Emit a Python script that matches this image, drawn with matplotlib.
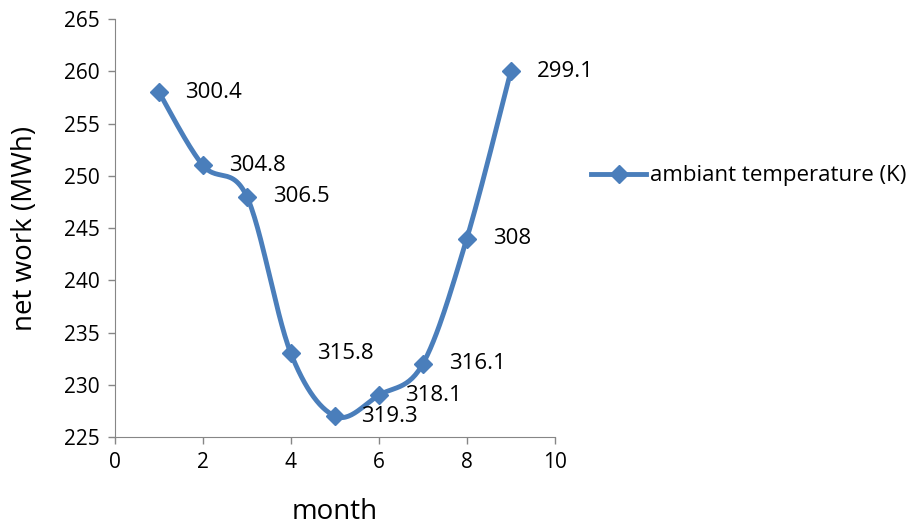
import numpy as np
import matplotlib.pyplot as plt

plt.rcParams['font.family'] = ['Open Sans', 'DejaVu Sans']

month = [1, 2, 3, 4, 5, 6, 7, 8, 9]
net_work = [258, 251, 248, 233, 227, 229, 232, 244, 260]
temperature = ['300.4', '304.8', '306.5', '315.8', '319.3', '318.1', '316.1', '308', '299.1']

blue = '#4a7ebb'
grey = '#868686'


def smooth(x, y, n=30):
    # Catmull-Rom style curve through the points (like a spreadsheet "smoothed line")
    x = np.asarray(x, float)
    y = np.asarray(y, float)
    px = np.concatenate([[x[0]], x, [x[-1]]])
    py = np.concatenate([[y[0]], y, [y[-1]]])
    xs, ys = [], []
    t = np.linspace(0, 1, n)
    for i in range(1, len(px) - 2):
        p0, p1, p2, p3 = (np.array([px[j], py[j]]) for j in range(i - 1, i + 3))
        c1 = p1 + (p2 - p0) / 6
        c2 = p2 - (p3 - p1) / 6
        b = (np.outer((1 - t) ** 3, p1) + np.outer(3 * (1 - t) ** 2 * t, c1)
             + np.outer(3 * (1 - t) * t ** 2, c2) + np.outer(t ** 3, p2))
        xs.extend(b[:, 0])
        ys.extend(b[:, 1])
    return xs, ys


fig = plt.figure(figsize=(9.2, 5.31), dpi=100)
ax = fig.add_axes([0.125, 0.177, 0.478, 0.787])

sx, sy = smooth(month, net_work)
ax.plot(sx, sy, color=blue, lw=3.5, solid_capstyle='round', zorder=2)
ax.plot(month, net_work, ls='none', marker='D', ms=9, color=blue, zorder=3)
# legend handle: line with diamond
ax.plot([], [], color=blue, lw=3.5, marker='D', ms=9, label='ambiant temperature (K)')

for x, y, t in zip(month, net_work, temperature):
    ax.annotate(t, (x, y), xytext=(19, 0), textcoords='offset points',
                va='center', ha='left', fontsize=16)

ax.set_xlim(0, 10)
ax.set_ylim(225, 265)
ax.set_xticks(range(0, 11, 2))
ax.set_yticks(range(225, 266, 5))
ax.tick_params(labelsize=15, color=grey, length=5, width=1, pad=6)
for side in ['top', 'right']:
    ax.spines[side].set_visible(False)
for side in ['left', 'bottom']:
    ax.spines[side].set_color(grey)

ax.set_xlabel('month', fontsize=20, labelpad=18)
ax.set_ylabel('net work (MWh)', fontsize=20, labelpad=18)

ax.legend(loc='center left', bbox_to_anchor=(1.062, 0.625), frameon=False,
          fontsize=16, handlelength=2.5, handletextpad=0.15, borderaxespad=0)

fig.savefig('out.png', dpi=100)
